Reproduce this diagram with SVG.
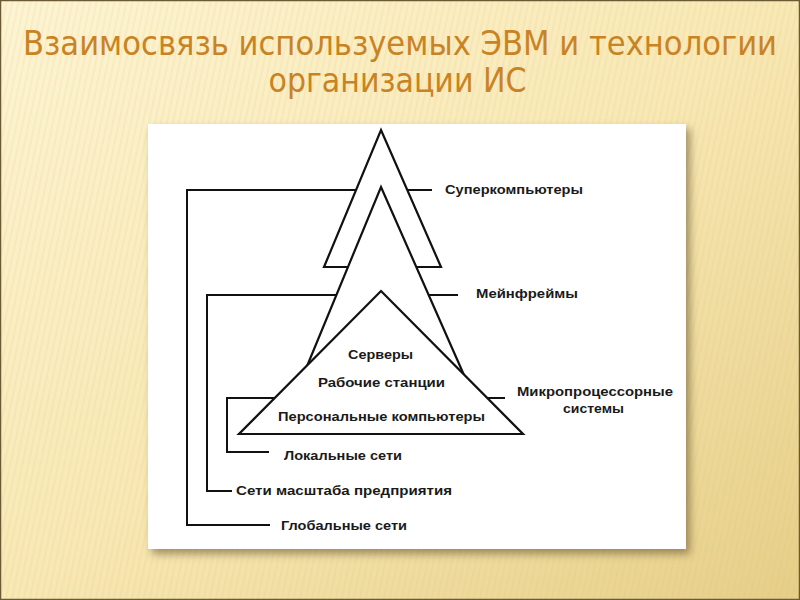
<svg xmlns="http://www.w3.org/2000/svg" width="800" height="600" viewBox="0 0 800 600">
<defs>
<linearGradient id="bg" x1="0" y1="0" x2="1" y2="1">
<stop offset="0" stop-color="#FDF4D3"/>
<stop offset="0.5" stop-color="#F8E8B4"/>
<stop offset="1" stop-color="#E6CE88"/>
</linearGradient>
<pattern id="stripes" width="6" height="600" patternUnits="userSpaceOnUse" patternTransform="skewX(-12)">
<rect x="0" y="0" width="2" height="600" fill="#D9BE6E" opacity="0.12"/>
</pattern>
<filter id="shadow" x="-10%" y="-10%" width="130%" height="130%">
<feGaussianBlur stdDeviation="4"/>
</filter>
<style>
.ln{fill:none;stroke:#111;stroke-width:2}
.tri{fill:#fff;stroke:#111;stroke-width:2.2;stroke-linejoin:miter}
.lbl{font-family:"Liberation Sans",Arial,sans-serif;font-size:13px;font-weight:bold;fill:#1a1a1a}
.title{font-family:"DejaVu Sans Condensed","Liberation Sans",sans-serif;font-size:33px;fill:#C98324}
</style>
</defs>
<rect x="0" y="0" width="800" height="600" fill="url(#bg)"/>
<rect x="0" y="0" width="800" height="600" fill="url(#stripes)"/>
<rect x="0.5" y="0.5" width="799" height="599" fill="none" stroke="#6b5b35" stroke-width="1.5"/>
<g id="title">
<text class="title" x="400" y="55" text-anchor="middle" textLength="754" lengthAdjust="spacingAndGlyphs">Взаимосвязь используемых ЭВМ и технологии</text>
<text class="title" x="397.5" y="92" text-anchor="middle" textLength="258" lengthAdjust="spacingAndGlyphs">организации ИС</text>
</g>
<g id="panel">
<rect x="152" y="129" width="538" height="425" fill="#5a4a20" opacity="0.55" filter="url(#shadow)"/>
<rect x="148" y="124" width="538" height="425" fill="#fff"/>
</g>
<g id="connectors">
<polyline class="ln" points="432,190 187,190 187,525 270,525"/>
<polyline class="ln" points="458,295 207,295 207,491 232,491"/>
<polyline class="ln" points="505,398 227,398 227,452 269,452"/>
</g>
<g id="supercomputers">
<polygon class="tri" points="381,130 441,267 324,267"/>
<text class="lbl" x="445" y="194" textLength="138" lengthAdjust="spacingAndGlyphs">Суперкомпьютеры</text>
</g>
<g id="mainframes">
<polygon class="tri" points="381,187 490,434 279,434"/>
<text class="lbl" x="476" y="298" textLength="102" lengthAdjust="spacingAndGlyphs">Мейнфреймы</text>
</g>
<g id="microprocessor">
<polygon class="tri" points="381,291 523,434 239,434"/>
<text class="lbl" x="348" y="359" textLength="65" lengthAdjust="spacingAndGlyphs">Серверы</text>
<text class="lbl" x="318" y="387" textLength="127" lengthAdjust="spacingAndGlyphs">Рабочие станции</text>
<text class="lbl" x="278" y="421" textLength="207" lengthAdjust="spacingAndGlyphs">Персональные компьютеры</text>
<text class="lbl" x="517" y="396" textLength="156" lengthAdjust="spacingAndGlyphs">Микропроцессорные</text>
<text class="lbl" x="563" y="413" textLength="61" lengthAdjust="spacingAndGlyphs">системы</text>
</g>
<g id="local">
<text class="lbl" x="284" y="460" textLength="118" lengthAdjust="spacingAndGlyphs">Локальные сети</text>
</g>
<g id="enterprise">
<text class="lbl" x="236" y="495" textLength="216" lengthAdjust="spacingAndGlyphs">Сети масштаба предприятия</text>
</g>
<g id="global">
<text class="lbl" x="281" y="530" textLength="126" lengthAdjust="spacingAndGlyphs">Глобальные сети</text>
</g>
</svg>
